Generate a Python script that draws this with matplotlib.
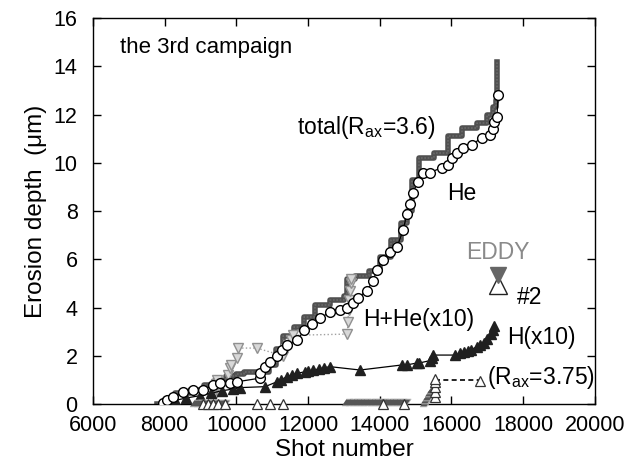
import numpy as np
import matplotlib
matplotlib.use("Agg")
import matplotlib.pyplot as plt

plt.rcParams['font.family'] = ['Liberation Sans', 'DejaVu Sans']
plt.rcParams['mathtext.fontset'] = 'custom'
plt.rcParams['mathtext.rm'] = 'Liberation Sans'

# total erosion (R_ax = 3.6), step curve
total_shot = [7800, 8000, 8300, 8700, 9100, 9400, 9700, 10000, 10200, 10900, 11100, 11300,
              11600, 11900, 12200, 12600, 13000, 13100, 13300, 13700, 14000, 14300, 14600,
              14750, 14900, 15100, 15500, 15900, 16300, 16700, 17000, 17150, 17250, 17280]
total_depth = [0.0, 0.2, 0.45, 0.6, 0.8, 1.0, 1.15, 1.25, 1.33, 1.6, 2.3, 2.8,
               3.2, 3.6, 4.1, 4.3, 4.5, 5.2, 5.3, 5.5, 6.1, 6.8, 7.5,
               8.0, 9.3, 10.2, 10.4, 11.1, 11.45, 11.65, 12.0, 12.3, 12.6, 14.2]

# He erosion (open circles)
he_shot = [7950, 8060, 8230, 8510, 8790, 9070, 9350, 9540, 9820, 10010, 10650, 10650,
           10800, 10930, 11130, 11270, 11400, 11690, 11900, 12100, 12330, 12610, 12890,
           13080, 13250, 13390, 13640, 13810, 13920, 14090, 14280, 14480, 14650, 14760,
           14840, 14920, 15060, 15200, 15400, 15730, 15900, 16010, 16150, 16320, 16570,
           16850, 17070, 17150, 17180, 17270, 17300]
he_depth = [0.04, 0.17, 0.3, 0.5, 0.58, 0.58, 0.79, 0.87, 0.87, 0.92, 1.07, 1.28,
            1.55, 1.75, 2.0, 2.24, 2.45, 2.65, 3.05, 3.3, 3.57, 3.8, 3.9,
            4.0, 4.2, 4.4, 4.7, 5.1, 5.55, 5.97, 6.3, 6.5, 7.2, 7.9,
            8.3, 8.75, 9.2, 9.6, 9.6, 9.8, 9.9, 10.2, 10.4, 10.6, 10.75,
            11.05, 11.15, 11.4, 11.7, 11.9, 12.8]

# H+He (x10), light grey down triangles
hhe_shot = [9350, 9380, 9400, 9420, 9450, 9780, 9820, 9850, 10030, 10050, 10570,
            11300, 11380, 11450, 11520, 11580, 13100, 13110, 13130, 13150, 13170, 13190, 13210]
hhe_depth = [0.2, 0.45, 0.65, 0.85, 1.0, 1.2, 1.49, 1.6, 1.9, 2.32, 2.32,
             2.0, 2.3, 2.45, 2.65, 2.85, 2.9, 3.4, 3.9, 4.3, 4.7, 5.0, 5.2]

# H (x10), filled triangles
h_shot = [8050, 8300, 8600, 9000, 9300, 9600, 9900, 10100, 10800, 11130, 11250, 11400,
          11550, 11690, 11910, 12000, 12140, 12300, 12450, 12610, 13450, 14620, 14750,
          15030, 15100, 15400, 15450, 15480, 16100, 16240, 16350, 16450, 16550, 16700,
          16800, 16900, 17000, 17100, 17150, 17200]
h_depth = [0.05, 0.15, 0.25, 0.35, 0.45, 0.55, 0.62, 0.68, 0.72, 0.92, 1.0, 1.13,
           1.2, 1.28, 1.33, 1.36, 1.41, 1.45, 1.5, 1.55, 1.41, 1.62, 1.62,
           1.7, 1.7, 1.8, 1.9, 2.03, 2.03, 2.1, 2.15, 2.2, 2.25, 2.37,
           2.45, 2.55, 2.7, 2.9, 3.05, 3.25]

# R_ax = 3.75 shots (open triangles)
r375_shot = [9070, 9200, 9350, 9500, 9680, 10570, 10930, 11300, 14090, 14670,
             15540, 15540, 15540, 15540, 15540, 16790]
r375_depth = [0, 0, 0, 0, 0, 0, 0, 0, 0, 0,
              0.3, 0.5, 0.7, 0.9, 1.05, 0.95]

# total at R_ax = 3.75 (dark grey hatched marks)
r375_tot_shot = [8850, 8950, 9050, 9150, 9250, 9350, 9450, 9550, 9650,
                 13100, 13200, 13300, 13400, 13500, 13600, 13700, 13800, 13900, 14000,
                 14100, 14200, 14300, 14400, 14500, 14600, 14700,
                 15250, 15300, 15350, 15400, 15450]
r375_tot_depth = [0.05, 0.05, 0.05, 0.05, 0.05, 0.05, 0.05, 0.05, 0.05,
                  0.1, 0.1, 0.1, 0.1, 0.1, 0.1, 0.1, 0.1, 0.1, 0.1,
                  0.1, 0.1, 0.1, 0.1, 0.1, 0.1, 0.1,
                  0.05, 0.15, 0.3, 0.45, 0.6]

# EDDY #2
eddy_shot = [17290]
eddy_total = [5.35]
eddy_he = [4.95]

fig = plt.figure(figsize=(6.41, 4.66), dpi=100)
ax = fig.add_axes([0.145, 0.133, 0.783, 0.828])

hatch_mark = [(-1.0, -0.6), (0.2, -0.6), (1.0, 0.6), (-0.2, 0.6)]

ax.plot(total_shot, total_depth, drawstyle='steps-post', color='#505050', lw=4, zorder=2)
ax.plot(total_shot, total_depth, drawstyle='steps-post', color='#6a6a6a', lw=1.2,
        ls=(0, (1, 1)), zorder=2)
ax.plot(he_shot, he_depth, color='black', lw=0.9, marker='o', ms=7, mfc='white',
        mec='black', mew=1.0, zorder=4)
ax.plot(hhe_shot, hhe_depth, color='#a0a0a0', lw=1.0, ls=':', marker='v', ms=6.5,
        mfc='#d8d8d8', mec='#909090', zorder=3)
ax.plot(h_shot, h_depth, color='black', lw=0.9, marker='^', ms=7, mfc='#202020',
        mec='#202020', zorder=3)
ax.plot(r375_tot_shot, r375_tot_depth, ls='none', marker=hatch_mark, ms=8, mfc='#555555',
        mec='#bbbbbb', mew=0.6, zorder=3, clip_on=False)
ax.plot(r375_shot[-2:], [1.0, 1.0], color='black', lw=1.2, ls=(0, (3, 2)), zorder=3)
ax.plot(r375_shot, r375_depth, ls='none', marker='^', ms=6.5, mfc='white', mec='#333333',
        mew=0.9, zorder=5, clip_on=False)
ax.plot(eddy_shot, eddy_he, ls='none', marker='^', ms=13, mfc='white', mec='#222222', mew=1.0, zorder=5)
ax.plot(eddy_shot, eddy_total, ls='none', marker='v', ms=11, mfc='#666666', mec='#666666', zorder=6)

fs = 16.5
ax.text(6750, 14.77, 'the 3rd campaign', fontsize=16, va='center')
ax.text(11690, 11.45, r'total(R$_{\rm ax}$=3.6)', fontsize=fs, va='center')
ax.text(15870, 8.75, 'He', fontsize=fs, va='center')
ax.text(13530, 3.49, 'H+He(x10)', fontsize=fs, va='center')
ax.text(17545, 2.74, 'H(x10)', fontsize=fs, va='center')
ax.text(16990, 1.12, r'(R$_{\rm ax}$=3.75)', fontsize=fs, va='center')
ax.text(17290, 6.27, 'EDDY', fontsize=fs, color='#8a8a8a', ha='center', va='center')
ax.text(17820, 4.4, '#2', fontsize=fs, va='center')

ax.set_xlim(6000, 20000)
ax.set_ylim(0, 16)
ax.set_xticks(np.arange(6000, 20001, 2000))
ax.set_yticks(np.arange(0, 17, 2))
ax.tick_params(direction='in', top=True, right=True, length=6, width=1, labelsize=15.5)
ax.tick_params(axis='x', pad=8)
ax.tick_params(axis='y', pad=11)
for s in ax.spines.values():
    s.set_linewidth(1.0)

ax.set_xlabel('Shot number', fontsize=17.5, labelpad=2)
ax.set_ylabel('Erosion depth  (μm)', fontsize=17.5, labelpad=5)

fig.savefig('out.png', dpi=100)
